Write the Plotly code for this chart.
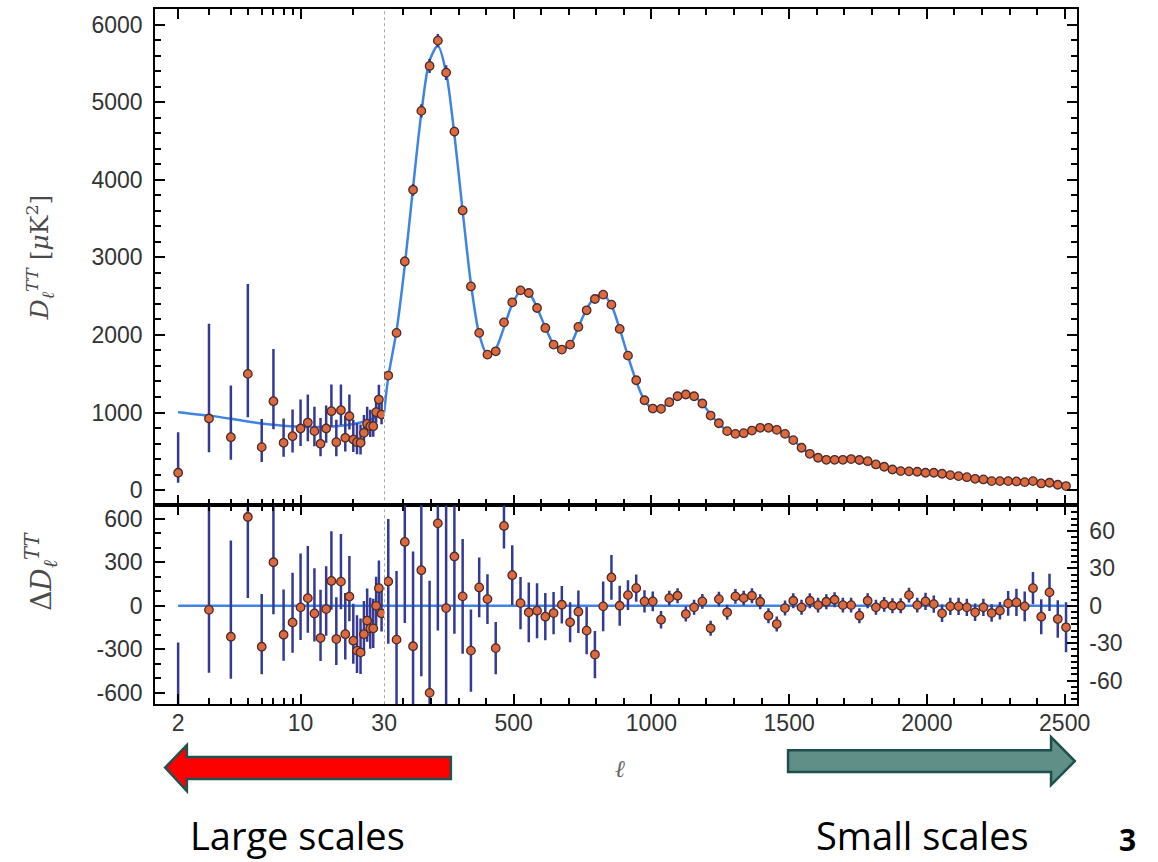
import math
import plotly.graph_objects as go

# ---------------- data ----------------
# unbinned low multipoles 2..29
ELL_LOW = [2, 3, 4, 5, 6, 7, 8, 9, 10, 11, 12, 13, 14, 15, 16, 17, 18, 19, 20,
           21, 22, 23, 24, 25, 26, 27, 28, 29]
D_LOW = [224, 923, 682, 1498, 554, 1146, 610, 695, 794, 871, 760, 597, 794, 1017,
         618, 1030, 674, 952, 652, 618, 610, 738, 854, 824, 824, 1004, 1167, 974]
ERR_LOW_PLUS = [522, 1222, 665, 1158, 364, 674, 313, 344, 373, 361, 313, 334, 296, 343,
                290, 330, 285, 280, 255, 245, 235, 230, 222, 212, 205, 200, 192, 186]
ERR_LOW_MINUS = [129, 434, 290, 560, 190, 360, 180, 210, 225, 240, 193, 159, 184, 200,
                 180, 190, 175, 170, 160, 155, 150, 150, 145, 140, 135, 135, 130, 125]
RES_LOW = [-776, -28, -214, 614, -283, 301, -200, -115, -11, 53, -53, -223, -23, 172,
           -230, 167, -196, 64, -241, -310, -322, -196, -103, -156, -156, 0, 122, -53]

# best-fit model curve, low multipoles
MODEL_ELL_LOW = [2, 3, 4, 5, 6, 7, 8, 9, 10, 12, 14, 16, 18, 20, 22, 24, 26, 28, 30]
MODEL_D_LOW = [1005, 960, 920, 885, 860, 842, 830, 822, 815, 812, 815, 823, 836, 852,
               872, 895, 925, 960, 1000]

# binned high multipoles (delta ell = 30)
ELL_BIN = [45, 75, 105, 135, 165, 195, 225, 255, 285, 315, 345, 375, 405, 435, 465, 495,
           525, 555, 585, 615, 645, 675, 705, 735, 765, 795, 825, 855, 885, 915, 945, 975,
           1005, 1035, 1065, 1095, 1125, 1155, 1185, 1215, 1245, 1275, 1305, 1335, 1365,
           1395, 1425, 1455, 1485, 1515, 1545, 1575, 1605, 1635, 1665, 1695, 1725, 1755,
           1785, 1815, 1845, 1875, 1905, 1935, 1965, 1995, 2025, 2055, 2085, 2115, 2145,
           2175, 2205, 2235, 2265, 2295, 2325, 2355, 2385, 2415, 2445, 2475, 2505]
D_HIGH = [1476, 2026, 2947, 3870, 4887, 5466, 5792, 5380, 4620, 3604,
          2625, 2026, 1746, 1789, 2162, 2420, 2574, 2540, 2347, 2090,
          1875, 1811, 1875, 2103, 2317, 2463, 2519, 2390, 2077, 1733,
          1416, 1158, 1051, 1047, 1133, 1210, 1232, 1210, 1116, 961,
          862, 760, 725, 734, 768, 803, 803, 777, 725, 644,
          546, 468, 417, 391, 391, 391, 400, 388, 373, 331,
          301, 266, 245, 242, 237, 224, 224, 211, 193, 180,
          167, 146, 138, 116, 116, 116, 112, 103, 116, 86,
          95, 69, 52]
ERR_HIGH = [50, 55, 65, 76, 85, 90, 86, 95, 62, 46,
            33, 24, 20, 21, 18, 24, 21, 24, 22, 19,
            17, 15, 16, 17, 19, 19, 20, 18, 16, 12,
            11, 9, 8, 7, 6, 6, 6, 6, 6, 6,
            6, 6, 6, 6, 6, 6, 6, 6, 6, 6,
            6, 6, 6, 6, 6, 6, 6, 6, 6, 6,
            6, 6, 6, 6, 6, 7, 7, 7, 7, 7,
            7, 7, 7, 7, 7, 10, 11, 12, 13, 14,
            15, 15, 20]
RES_HIGH = [19.5, -27.2, 51.2, -32.5, 28.5, -69.9, 66.1, -1.9, 39.5, 7.5,
            -36, 14.7, 5.3, -34, 64, 24.5, 2.1, -5.3, -4, -8.8,
            -5.9, 0.8, -13.3, -4.8, -20, -39.2, -0.5, 22.7, 0, 8.5,
            14.1, 3.5, 3.5, -11.2, 6.1, 8, -6.7, -1.3, 3.5, -18.1,
            5.3, -5.3, 7.5, 6.1, 8, 3.2, -8, -14.7, -1.9, 4,
            -1.3, 4, 0.5, 3.2, 4.8, 0.5, 0.5, -8, 4, -1.3,
            1.1, 0, 0, 8.5, 0.5, 3.5, 1.3, -6.1, -0.5, -0.5,
            -1.3, -5.3, -1.3, -5.9, -4, 1.9, 2.7, -0.5, 14.1, -8.8,
            10.7, -10.7, -17.3]

# best-fit model curve, high multipoles (starts at ell = 30)
MODEL_ELL_HIGH = [30] + ELL_BIN
MODEL_D_HIGH = [1000, 1457, 2053, 2896, 3902, 4859, 5536, 5726, 5382, 4580, 3596,
                2661, 2011, 1741, 1823, 2098, 2395, 2565, 2545, 2351, 2099,
                1881, 1810, 1870, 2100, 2337, 2490, 2519, 2380, 2077, 1725,
                1402, 1155, 1050, 1058, 1130, 1205, 1235, 1211, 1113, 975,
                857, 765, 722, 730, 760, 800, 810, 790, 727, 640,
                550, 470, 425, 398, 390, 390, 392, 390, 372, 340,
                305, 275, 254, 242, 236, 230, 222, 212, 198, 183,
                168, 154, 141, 130, 122, 116, 110, 104, 98, 93,
                87, 80, 72]

ZERO_ELL_LOW = [2, 30]
ZERO_ELL_HIGH = [30, 2500]

# tick definitions
X_LOG_TICKS = [2, 10, 30]
X_LOG_MINOR = [3, 4, 5, 6, 7, 8, 9, 20]
X_LIN_TICKS = [500, 1000, 1500, 2000, 2500]
Y_TOP_TICKS = [0, 1000, 2000, 3000, 4000, 5000, 6000]
Y_RES_LEFT_TICKS = [-600, -300, 0, 300, 600]
Y_RES_RIGHT_TICKS = [-60, -30, 0, 30, 60]

# ---------------- styling / layout ----------------
W, H = 1158, 862


def px(x):
    return x / W


def py(y):
    return 1 - y / H


XL, XM, XR = 157, 388.5, 1089
YT, YM, YB = 9, 506, 705

BLUE = "#3f83e4"
NAVY = "#343a94"
MFILL = "#dc6a3e"
MEDGE = "#4b2b2b"
TICKFONT = dict(family="Liberation Sans, Arial, sans-serif", size=23, color="#333333")

marker = dict(size=8.5, color=MFILL, line=dict(color=MEDGE, width=1.3))

fig = go.Figure()

# top-left (log ell)
fig.add_trace(go.Scatter(x=MODEL_ELL_LOW, y=MODEL_D_LOW, mode="lines",
                         line=dict(color=BLUE, width=2.5, shape="spline", smoothing=0.8),
                         xaxis="x", yaxis="y", hoverinfo="skip"))
fig.add_trace(go.Scatter(x=ELL_LOW, y=D_LOW, mode="markers", marker=marker,
                         error_y=dict(type="data", symmetric=False, array=ERR_LOW_PLUS,
                                      arrayminus=ERR_LOW_MINUS, color=NAVY,
                                      thickness=2.5, width=0),
                         xaxis="x", yaxis="y"))
# top-right (linear ell)
fig.add_trace(go.Scatter(x=MODEL_ELL_HIGH, y=MODEL_D_HIGH, mode="lines",
                         line=dict(color=BLUE, width=2.5, shape="spline", smoothing=0.8),
                         xaxis="x2", yaxis="y2", hoverinfo="skip"))
fig.add_trace(go.Scatter(x=ELL_BIN, y=D_HIGH, mode="markers", marker=marker,
                         error_y=dict(type="data", array=ERR_HIGH, color=NAVY,
                                      thickness=2.5, width=0),
                         xaxis="x2", yaxis="y2"))
# bottom-left residuals
fig.add_trace(go.Scatter(x=ZERO_ELL_LOW, y=[0, 0], mode="lines",
                         line=dict(color=BLUE, width=2.5), xaxis="x3", yaxis="y3"))
fig.add_trace(go.Scatter(x=ELL_LOW, y=RES_LOW, mode="markers", marker=marker,
                         error_y=dict(type="data", symmetric=False, array=ERR_LOW_PLUS,
                                      arrayminus=ERR_LOW_MINUS, color=NAVY,
                                      thickness=2.5, width=0),
                         xaxis="x3", yaxis="y3"))
# bottom-right residuals
fig.add_trace(go.Scatter(x=ZERO_ELL_HIGH, y=[0, 0], mode="lines",
                         line=dict(color=BLUE, width=2.5), xaxis="x4", yaxis="y4"))
fig.add_trace(go.Scatter(x=ELL_BIN, y=RES_HIGH, mode="markers", marker=marker,
                         error_y=dict(type="data", array=ERR_HIGH, color=NAVY,
                                      thickness=2.5, width=0),
                         xaxis="x4", yaxis="y4"))

common = dict(showline=True, linecolor="black", linewidth=2, ticks="inside",
              ticklen=10, tickwidth=1.5, tickcolor="black", showgrid=False,
              zeroline=False, tickfont=TICKFONT)

logx = dict(common, type="log", domain=[px(XL), px(XM)],
            range=[math.log10(1.48), math.log10(30.0)],
            tickmode="array", tickvals=X_LOG_TICKS, ticktext=[str(v) for v in X_LOG_TICKS],
            mirror="allticks",
            minor=dict(tickmode="array", tickvals=X_LOG_MINOR, ticks="inside",
                       ticklen=6, tickwidth=1.5, tickcolor="black"))
linx = dict(common, type="linear", domain=[px(XM), px(XR)], range=[30, 2544],
            tickmode="array", tickvals=X_LIN_TICKS,
            ticktext=[str(v) for v in X_LIN_TICKS],
            mirror="allticks",
            minor=dict(tick0=0, dtick=100, ticks="inside", ticklen=6,
                       tickwidth=1.5, tickcolor="black"))


def hyphen_labels(vals):
    return [str(v) for v in vals]  # plain ASCII hyphen-minus like the reference


fig.update_layout(
    width=W, height=H, margin=dict(l=0, r=0, t=0, b=0),
    paper_bgcolor="white", plot_bgcolor="white", showlegend=False,
    xaxis=dict(logx, anchor="y", showticklabels=False),
    xaxis2=dict(linx, anchor="y2", showticklabels=False),
    xaxis3=dict(logx, anchor="y3", showticklabels=True, ticklabelstandoff=-3),
    xaxis4=dict(linx, anchor="y4", showticklabels=True, ticklabelstandoff=-3),
    yaxis=dict(common, domain=[py(YM), py(YT)], range=[-197, 6200], anchor="x",
               side="left", tickmode="array", tickvals=Y_TOP_TICKS,
               ticktext=hyphen_labels(Y_TOP_TICKS), ticklabelstandoff=6,
               minor=dict(tick0=0, dtick=200, ticks="inside", ticklen=6,
                          tickwidth=1.5, tickcolor="black")),
    yaxis2=dict(common, domain=[py(YM), py(YT)], range=[-197, 6200], anchor="x2",
                side="right", tickmode="array", tickvals=Y_TOP_TICKS,
                showticklabels=False,
                minor=dict(tick0=0, dtick=200, ticks="inside", ticklen=6,
                           tickwidth=1.5, tickcolor="black")),
    yaxis3=dict(common, domain=[py(YB), py(YM)], range=[-680, 694], anchor="x3",
                side="left", tickmode="array", tickvals=Y_RES_LEFT_TICKS,
                ticktext=hyphen_labels(Y_RES_LEFT_TICKS), ticklabelstandoff=6,
                minor=dict(tick0=0, dtick=100, ticks="inside", ticklen=6,
                           tickwidth=1.5, tickcolor="black")),
    yaxis4=dict(common, domain=[py(YB), py(YM)], range=[-79, 80.5], anchor="x4",
                side="right", tickmode="array", tickvals=Y_RES_RIGHT_TICKS,
                ticktext=hyphen_labels(Y_RES_RIGHT_TICKS), ticklabelstandoff=6,
                minor=dict(tick0=0, dtick=5, ticks="inside", ticklen=6,
                           tickwidth=1.5, tickcolor="black")),
)

# dotted divider at ell = 30
fig.add_shape(type="line", xref="x2", yref="paper", x0=30, x1=30,
              y0=py(YB), y1=py(YT), layer="below",
              line=dict(color="#8f8f8f", width=1.5, dash="dot"))


def path(points):
    return "M " + " L ".join(f"{px(x):.5f},{py(y):.5f}" for x, y in points) + " Z"


red_arrow = [(167, 768.5), (189, 746), (189, 758), (456, 758), (456, 780),
             (189, 780), (189, 792)]
teal_arrow = [(797, 751), (1063, 751), (1063, 738), (1087, 762), (1063, 786),
              (1063, 773), (797, 773)]
fig.add_shape(type="path", xref="paper", yref="paper", path=path(red_arrow),
              fillcolor="#ff0000", line=dict(color="#1f5250", width=2.5))
fig.add_shape(type="path", xref="paper", yref="paper", path=path(teal_arrow),
              fillcolor="#5f8f86", line=dict(color="#1f4f4c", width=2.5))

TITLEFONT = dict(family="DejaVu Serif, Liberation Serif, serif", size=25, color="#4a4a4a")
ann = [
    dict(text="<i>D</i><sub><i>ℓ</i></sub><sup><i>TT</i></sup> [<i>μ</i>K<sup>2</sup>]",
         x=px(40), y=py(258), textangle=-90, font=TITLEFONT),
    dict(text="Δ<i>D</i><sub><i>ℓ</i></sub><sup><i>TT</i></sup>",
         x=px(42), y=py(572), textangle=-90, font=dict(TITLEFONT, size=28)),
    dict(text="<i>ℓ</i>", x=px(627), y=py(770),
         font=dict(family="DejaVu Serif, serif", size=24, color="#666666")),
    dict(text="Large scales", x=px(301), y=py(836),
         font=dict(family="Open Sans, sans-serif", size=38, color="black")),
    dict(text="Small scales", x=px(933), y=py(836),
         font=dict(family="Open Sans, sans-serif", size=38, color="black")),
    dict(text="<b>3</b>", x=px(1140), y=py(840),
         font=dict(family="Open Sans, sans-serif", size=30, color="black")),
]
for a in ann:
    fig.add_annotation(xref="paper", yref="paper", showarrow=False,
                       xanchor="center", yanchor="middle", **a)

fig.write_html("out.html")
